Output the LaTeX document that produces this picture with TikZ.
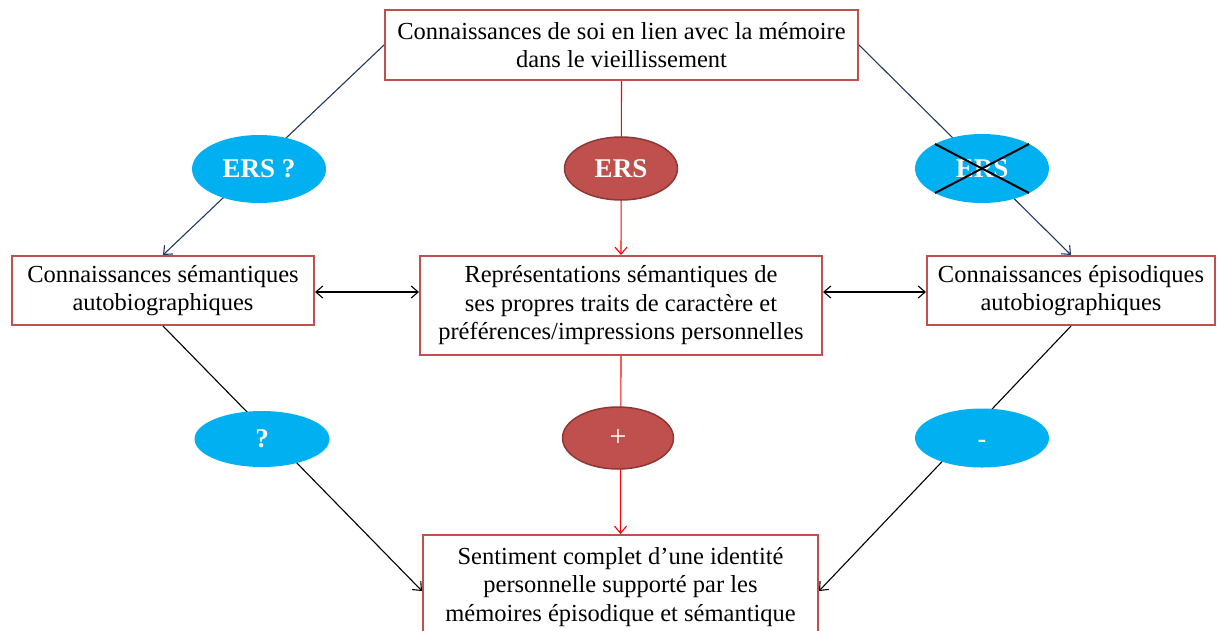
\documentclass[tikz,border=0pt]{standalone}
\usepackage{fontspec}
\setmainfont{Liberation Serif}
\usetikzlibrary{arrows.meta,shapes.geometric}
\definecolor{boxred}{HTML}{C0504D}
\definecolor{darkred}{HTML}{8C3836}
\definecolor{cyanfill}{HTML}{00B0F0}
\definecolor{navy}{HTML}{1F3864}
\tikzset{
  box/.style={draw=boxred, line width=2pt, fill=white, inner sep=0pt, align=center,
    font=\fontsize{24.5}{28.5}\selectfont},
  blueell/.style={ellipse, fill=cyanfill, draw=none, inner sep=0pt, text=white,
    font=\fontsize{27}{30}\selectfont\bfseries},
  redell/.style={ellipse, fill=boxred, draw=darkred, line width=1.5pt, inner sep=0pt, text=white,
    font=\fontsize{27}{30}\selectfont\bfseries},
  tip/.style={-{Straight Barb[length=7pt,width=12pt]}},
  dtip/.style={{Straight Barb[length=7pt,width=12pt]}-{Straight Barb[length=7pt,width=12pt]}},
  navyline/.style={navy, line width=1.1pt, tip},
  redline/.style={red, line width=1.1pt, tip},
  blackline/.style={black, line width=1.1pt, tip},
  cross/.style={black, line width=2pt}
}
\begin{document}
\begin{tikzpicture}[x=1pt,y=-1pt]
\useasboundingbox (0,0) rectangle (1217,630);
\clip (0,0) rectangle (1217,630);
% boxes
\node[box, minimum width=473pt, minimum height=70pt] (top) at (621.5,45) {Connaissances de soi en lien avec la mémoire\\dans le vieillissement};
\node[box, minimum width=302pt, minimum height=69pt] (left) at (163,290.5) {Connaissances sémantiques\\autobiographiques};
\node[box, minimum width=402pt, minimum height=99pt] (mid) at (621,305.5) {Représentations sémantiques de\\ses propres traits de caractère et\\préférences/impressions personnelles};
\node[box, minimum width=288pt, minimum height=69pt] (right) at (1071,290.5) {Connaissances épisodiques\\autobiographiques};
\node[box, minimum width=395pt, minimum height=104pt] (bot) at (620.5,587) {Sentiment complet d’une identité\\personnelle supporté par les\\mémoires épisodique et sémantique};
% connectors
\draw[navyline] (top.west) -- (left.north);
\draw[navyline] (top.east) -- (right.north);
\draw[redline] (top.south) -- (mid.north);
\draw[redline] (mid.south) -- (bot.north);
\draw[black, line width=1.1pt, dtip] ([yshift=-1.5pt]left.east) -- ([yshift=-1.5pt]left.east -| mid.west);
\draw[black, line width=1.1pt, dtip] ([yshift=-1.5pt]right.west -| mid.east) -- ([yshift=-1.5pt]right.west);
\draw[blackline] (left.south) -- ([yshift=-4pt]bot.west);
\draw[blackline] (right.south) -- ([yshift=-4pt]bot.east);
% ellipses
\node[blueell, minimum width=134pt, minimum height=68pt] (e1) at (259,169) {ERS ?};
\node[redell, minimum width=113pt, minimum height=63pt] (e2) at (621,168.5) {ERS};
\node[blueell, minimum width=134pt, minimum height=69pt] (e3) at (982,168.5) {ERS};
\node[blueell, minimum width=135pt, minimum height=56pt] (e4) at (262,439) {?};
\node[redell, minimum width=111pt, minimum height=62pt, font=\fontsize{30}{30}\selectfont] (e5) at (618,438) {+};
\node[blueell, minimum width=134pt, minimum height=59pt, text height=18pt, text depth=0pt, font=\fontsize{26}{30}\selectfont\bfseries] (e6) at (982,438) {-};
% cross over the struck ERS
\draw[cross] ([shift={(-47,-24.5)}]e3.center) -- ([shift={(47,24.5)}]e3.center);
\draw[cross] ([shift={(-47,24.5)}]e3.center) -- ([shift={(47,-24.5)}]e3.center);
\end{tikzpicture}
\end{document}
